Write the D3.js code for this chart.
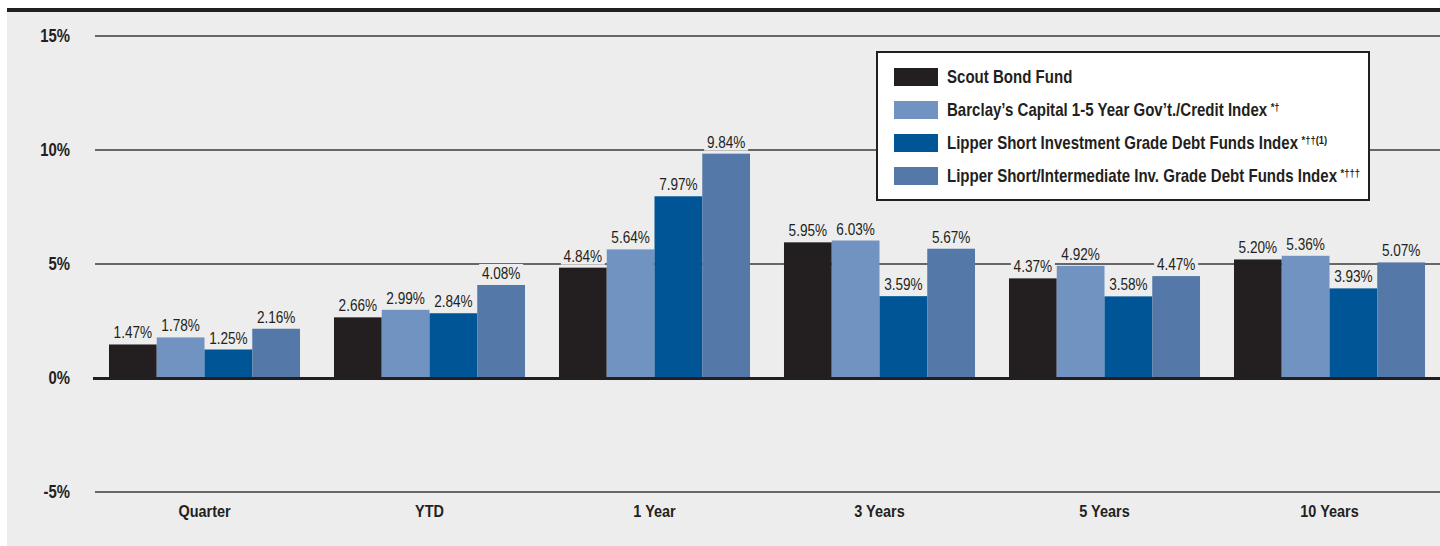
<!DOCTYPE html>
<html>
<head>
<meta charset="utf-8">
<script src="https://cdn.jsdelivr.net/npm/d3@7"></script>
<style>
  body { margin: 0; background: #fff; }
  svg text { font-family: "Liberation Sans", Arial, sans-serif; }
</style>
</head>
<body>
<div id="wrapper"></div>
<script>
const categories = ["Quarter", "YTD", "1 Year", "3 Years", "5 Years", "10 Years"];
const seriesNames = [
  "Scout Bond Fund",
  "Barclay\u2019s Capital 1-5 Year Gov\u2019t./Credit Index",
  "Lipper Short Investment Grade Debt Funds Index",
  "Lipper Short/Intermediate Inv. Grade Debt Funds Index"
];
const seriesMarks = ["", "*\u2020", "*\u2020\u2020(1)", "*\u2020\u2020\u2020"];
const scoutBond = [1.47, 2.66, 4.84, 5.95, 4.37, 5.20];
const barclays = [1.78, 2.99, 5.64, 6.03, 4.92, 5.36];
const lipperShort = [1.25, 2.84, 7.97, 3.59, 3.58, 3.93];
const lipperInter = [2.16, 4.08, 9.84, 5.67, 4.47, 5.07];
const yTicks = [-5, 0, 5, 10, 15];
const colors = ["#231f20", "#7193c1", "#005596", "#5478a7"];

function build() {
  const width = 1440, height = 546;
  const bg = "#ededed";
  const series = [scoutBond, barclays, lipperShort, lipperInter];
  const narrow = 0.85; // fake a condensed face

  const svg = d3.select("#wrapper").append("svg")
    .attr("width", width)
    .attr("height", height);

  svg.append("rect").attr("x", 7).attr("y", 12).attr("width", width - 7).attr("height", height - 12).attr("fill", bg);
  svg.append("rect").attr("x", 7).attr("y", 8).attr("width", width - 7).attr("height", 4).attr("fill", "#231f20");

  const y = d3.scaleLinear().domain([-5, 15]).range([492, 36]);
  const x0 = d3.scaleBand().domain(categories).range([92, 1442]).paddingInner(0.151).paddingOuter(0.0755);
  const x1 = d3.scaleBand().domain(d3.range(series.length)).range([0, x0.bandwidth()]);

  // gridlines
  svg.append("g").selectAll("line")
    .data(yTicks.filter(d => d !== 0))
    .enter().append("line")
    .attr("x1", 95).attr("x2", width)
    .attr("y1", d => y(d)).attr("y2", d => y(d))
    .attr("stroke", "#3a3a3a").attr("stroke-width", 1.3);

  // y labels
  svg.append("g").selectAll("text")
    .data(yTicks)
    .enter().append("text")
    .attr("transform", d => `translate(70,${y(d) + 6}) scale(${narrow},1)`)
    .attr("text-anchor", "end")
    .attr("font-weight", "bold").attr("font-size", 17.5).attr("fill", "#231f20")
    .text(d => d + "%");

  const data = [];
  categories.forEach((c, i) => {
    series.forEach((s, j) => data.push({ cat: c, k: j, v: s[i] }));
  });

  svg.append("g").selectAll("rect")
    .data(data)
    .enter().append("rect")
    .attr("x", d => x0(d.cat) + x1(d.k))
    .attr("width", x1.bandwidth())
    .attr("y", d => y(Math.max(0, d.v)))
    .attr("height", d => Math.abs(y(d.v) - y(0)))
    .attr("fill", d => colors[d.k]);

  // zero line
  svg.append("line")
    .attr("x1", 93).attr("x2", width)
    .attr("y1", y(0) + 0.5).attr("y2", y(0) + 0.5)
    .attr("stroke", "#231f20").attr("stroke-width", 3);

  // value labels with background
  const labels = svg.append("g").selectAll("g")
    .data(data)
    .enter().append("g")
    .attr("transform", d => `translate(${x0(d.cat) + x1(d.k) + x1.bandwidth() / 2},${y(d.v) - 6})`);
  labels.append("rect")
    .attr("x", -22).attr("y", -15).attr("width", 44).attr("height", 18)
    .attr("fill", bg);
  labels.append("text")
    .attr("transform", `scale(${narrow},1)`)
    .attr("text-anchor", "middle")
    .attr("font-size", 16).attr("fill", "#231f20")
    .text(d => d.v.toFixed(2) + "%");

  // category labels
  svg.append("g").selectAll("text")
    .data(categories)
    .enter().append("text")
    .attr("transform", d => `translate(${x0(d) + x0.bandwidth() / 2},517) scale(${narrow},1)`)
    .attr("text-anchor", "middle")
    .attr("font-weight", "bold").attr("font-size", 17).attr("fill", "#231f20")
    .text(d => d);

  // legend
  const legend = svg.append("g").attr("transform", "translate(877,52)");
  legend.append("rect")
    .attr("width", 492).attr("height", 148)
    .attr("fill", "#fff").attr("stroke", "#231f20").attr("stroke-width", 2);
  const items = legend.selectAll("g")
    .data(seriesNames)
    .enter().append("g")
    .attr("transform", (d, i) => `translate(17,${25 + i * 33})`);
  items.append("rect")
    .attr("x", 0).attr("y", -9).attr("width", 44).attr("height", 18)
    .attr("fill", (d, i) => colors[i]);
  const lt = items.append("text")
    .attr("transform", `translate(53,6) scale(0.86,1)`)
    .attr("font-weight", "bold").attr("font-size", 17.5).attr("fill", "#231f20");
  lt.append("tspan").text(d => d);
  lt.append("tspan")
    .attr("dx", 4).attr("dy", -5)
    .attr("font-size", 11)
    .text((d, i) => seriesMarks[i]);
}

build();
</script>
</body>
</html>
